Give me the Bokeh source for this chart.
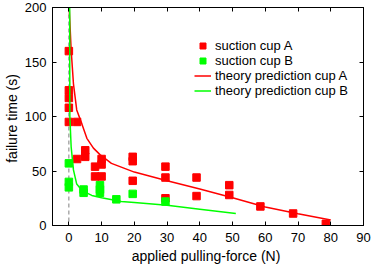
from bokeh.plotting import figure
from bokeh.models import LinearAxis, Span, Legend, LegendItem, Range1d, FixedTicker
from bokeh.embed import file_html
from bokeh.resources import INLINE

# ---- data ----
cupA_force = [0, 0, 0, 0, 0, 2.5, 2.5, 5, 5, 8, 8, 10, 10, 10,
              19.5, 19.5, 19.5, 29.5, 29.5, 29.5, 39, 39, 49, 49, 58.5, 68.5, 78.5]
cupA_time = [160, 124, 117, 108, 95, 95, 61, 69, 63, 54, 45, 61, 56, 45,
             63, 59, 41, 54, 44, 25, 44, 27, 37, 28, 17.5, 11, 1.5]

cupB_force = [0, 0, 0, 4.5, 4.5, 9.5, 9.5, 9.5, 14.5, 19.5, 29.5]
cupB_time = [57, 40, 35, 33, 30, 37, 33, 30, 24, 29, 22]

theoryA_force = [0.1, 0.7, 1.4, 2.4, 4, 5.5, 7.5, 9.5, 13, 20, 30, 40, 50, 60, 70, 80]
theoryA_time = [200, 161, 130, 106, 93, 80, 71, 65, 57, 49, 41, 33.5, 25.5, 17, 10.8, 5]

theoryB_force = [0.25, 0.3, 0.7, 1.4, 2.4, 4, 7, 10, 16, 20, 30, 40, 51]
theoryB_time = [200, 100, 72, 51, 38, 32, 27.6, 25.5, 22, 21, 18.5, 15, 11]

x_ticks = [0, 10, 20, 30, 40, 50, 60, 70, 80, 90]
y_ticks = [0, 50, 100, 150, 200]
zero_force = 0

FONT = "Liberation Sans"

p = figure(width=374, height=267,
           x_range=Range1d(-5, 90), y_range=Range1d(0, 200),
           output_backend="svg", toolbar_location=None,
           min_border_top=7, min_border_left=52, min_border_right=11, min_border_bottom=42)
p.grid.visible = False
p.outline_line_color = "black"
p.background_fill_color = "white"

for ax in (p.xaxis[0], p.yaxis[0]):
    ax.major_tick_in = 4
    ax.major_tick_out = 0
    ax.minor_tick_line_color = None
    ax.axis_line_color = "black"
    ax.major_tick_line_color = "black"
    ax.major_label_text_font = FONT
    ax.major_label_text_font_size = "13px"
    ax.major_label_text_color = "black"
    ax.axis_label_text_font = FONT
    ax.axis_label_text_font_size = "14px"
    ax.axis_label_text_font_style = "normal"
    ax.axis_label_text_color = "black"

p.xaxis.ticker = FixedTicker(ticks=x_ticks)
p.yaxis.ticker = FixedTicker(ticks=y_ticks)
p.xaxis.axis_label = "applied pulling-force  (N)"
p.yaxis.axis_label = "failure time  (s)"
p.xaxis.major_label_standoff = 7
p.xaxis.axis_label_standoff = 3
p.yaxis.major_label_standoff = 6
p.yaxis.axis_label_standoff = 2

for side, ticks in (("above", x_ticks), ("right", y_ticks)):
    ax = LinearAxis(ticker=FixedTicker(ticks=ticks), major_label_text_font_size="1px",
                    major_label_text_color=None, major_label_text_alpha=0,
                    major_label_standoff=0, major_tick_in=4, major_tick_out=0,
                    minor_tick_line_color=None, axis_line_color="black")
    p.add_layout(ax, side)

p.add_layout(Span(location=zero_force, dimension="height", line_color="#808080",
                  line_dash="4 3", line_width=1, level="underlay"))

rA = p.scatter(cupA_force, cupA_time, marker="square", size=7.5,
               fill_color="#ff0000", line_color="#ff0000")
rB = p.scatter(cupB_force, cupB_time, marker="square", size=7.5,
               fill_color="#00ff00", line_color="#00ff00")
lA = p.line(theoryA_force, theoryA_time, line_color="#ff0000", line_width=1.5)
lB = p.line(theoryB_force, theoryB_time, line_color="#00ff00", line_width=1.5)

legend = Legend(items=[
    LegendItem(label="suction cup A", renderers=[rA]),
    LegendItem(label="suction cup B", renderers=[rB]),
    LegendItem(label="theory prediction cup A", renderers=[lA]),
    LegendItem(label="theory prediction cup B", renderers=[lB]),
], location=(142, 127), border_line_color=None, background_fill_alpha=0,
    padding=0, margin=0, spacing=0, glyph_height=15, glyph_width=17,
    label_height=15, label_standoff=4, label_text_font=FONT,
    label_text_font_size="13px", label_text_color="black")
p.add_layout(legend, "center")

open("out.html", "w").write(file_html(p, INLINE))
